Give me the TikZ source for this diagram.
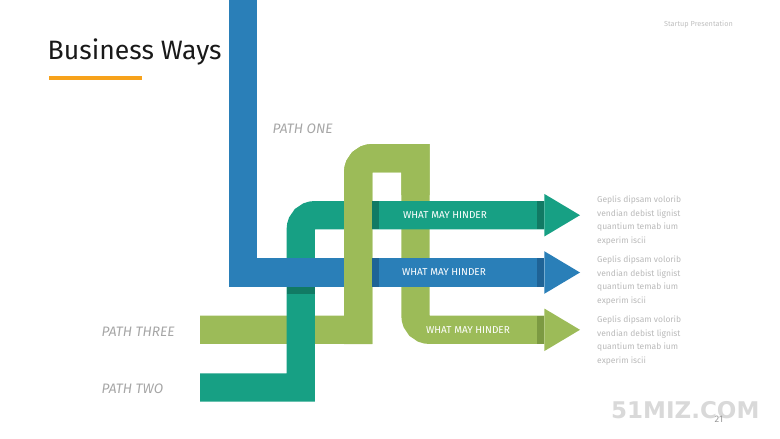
\documentclass[tikz,border=0pt]{standalone}
\usepackage{fontspec}
\setmainfont{Fira Sans}
\newfontfamily\markfont{DejaVu Sans}
\usepackage{xcolor}
\definecolor{pipeblue}{HTML}{2A7FB8}
\definecolor{pipeteal}{HTML}{17A084}
\definecolor{pipegreen}{HTML}{9CBB58}
\definecolor{darkblue}{HTML}{1F6396}
\definecolor{darkteal}{HTML}{117A64}
\definecolor{darkgreen}{HTML}{7C9A42}
\definecolor{barorange}{HTML}{F7A21B}
\tikzset{
	pipe/.style = {line width = 28.3pt},
	pathlabel/.style = {text = gray!70, inner sep = 0pt, anchor = west, font = \itshape\fontsize{13.7}{15}\selectfont},
	hinder/.style = {text = white, inner sep = 0pt, font = \fontsize{10}{12}\selectfont},
	note/.style = {text = gray!55, inner sep = 0pt, anchor = north west, align = left, font = \fontsize{8.5}{13.4}\selectfont}
}
\begin{document}
\begin{tikzpicture}[x = 1pt, y = -1pt]
			\useasboundingbox (0, 0) rectangle (780, 439);
			\coordinate (tealend) at (544.3, 215.2);
			\coordinate (blueend) at (544.3, 272.5);
			\coordinate (greenend) at (544.3, 329.8);
			\node[anchor = west, inner sep = 0pt, text = black!90, font = \fontsize{26.6}{30}\selectfont] (title) at (47.5, 52) {Business Ways};
			\fill[barorange] (49, 75.5) rectangle (141.5, 79.5);
			\node[anchor = east, inner sep = 0pt, text = gray!50, font = \fontsize{7.3}{9}\selectfont] (header) at (733, 24) {Startup Presentation};
			\draw[pipe, pipegreen] (200, 329.8) -- (358.2, 329.8) [rounded corners = 14pt] -- (358.2, 158.2) [sharp corners] -- (415.5, 158.2) [rounded corners = 14pt] -- (415.5, 329.8) [sharp corners] -- (greenend);
			\draw[pipe, pipeteal] (200, 387.5) -- (300.8, 387.5) [rounded corners = 14pt] -- (300.8, 215.2) [sharp corners] -- (tealend);
			\fill[darkteal] (286.7, 286.7) rectangle (315, 293.7);
			\draw[pipe, pipeblue] (243.3, -5) -- (243.3, 272.5) -- (blueend);
			\draw[pipe, pipegreen] (358.2, 344) [rounded corners = 14pt] -- (358.2, 158.2) [sharp corners] -- (415.5, 158.2) -- (415.5, 195);
			\foreach \y/\c in {215.2/darkteal, 272.5/darkblue}
			\fill[\c] (372.3, \y - 14.15) rectangle ++(7, 28.3);
			\foreach \y/\c in {215.2/darkteal, 272.5/darkblue, 329.8/darkgreen}
			\fill[\c] (537.3, \y - 14.15) rectangle ++(7, 28.3);
			\foreach \n/\c in {tealend/pipeteal, blueend/pipeblue, greenend/pipegreen}
			\fill[\c] (\n) ++(0, -21.3) -- ++(35.7, 21.3) -- ++(-35.7, 21.3) -- cycle;
			\node[hinder] (hinderone) at (445, 215.2) {WHAT MAY HINDER};
			\node[hinder] (hindertwo) at (444, 272.5) {WHAT MAY HINDER};
			\node[hinder] (hinderthree) at (468, 329.8) {WHAT MAY HINDER};
			\node[pathlabel] (pathone) at (272.5, 129) {PATH ONE};
			\node[pathlabel] (paththree) at (101.5, 332) {PATH THREE};
			\node[pathlabel] (pathtwo) at (101.5, 389) {PATH TWO};
			\foreach \y [count = \i] in {196, 256, 316}
			\node[note] (note\i) at (597, \y) {Geplis dipsam volorib\\vendian debist lignist\\quantium temab ium\\experim iscii};
			\node[anchor = west, inner sep = 0pt, text = gray!30, font = \markfont\bfseries\fontsize{23}{28}\selectfont] (mark) at (611, 410) {51MIZ.COM};
			\node[inner sep = 0pt, text = gray!80, font = \fontsize{9.5}{11}\selectfont] (pagenum) at (719, 419) {21};
\end{tikzpicture}
\end{document}
